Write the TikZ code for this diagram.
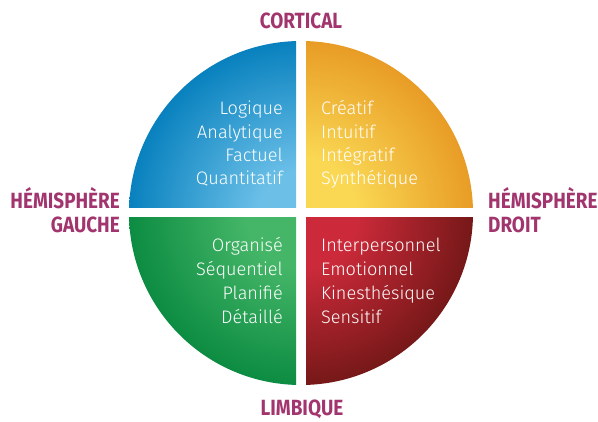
\documentclass[tikz,border=0pt]{standalone}
\usepackage{fontspec}
\newfontfamily\labfont[FakeStretch=0.86]{Fira Sans Bold}
\newfontfamily\qfont{Fira Sans Light}
\definecolor{labcol}{HTML}{A2356E}
\definecolor{bluein}{HTML}{6CC0E8}
\definecolor{blueout}{HTML}{0881BE}
\definecolor{yelin}{HTML}{FAD854}
\definecolor{yelout}{HTML}{E89C26}
\definecolor{grein}{HTML}{45B668}
\definecolor{greout}{HTML}{0C8C42}
\definecolor{redin}{HTML}{CC2A3A}
\definecolor{redout}{HTML}{761818}
\pgfdeclareradialshading{blueq}{\pgfpoint{0bp}{0bp}}{color(0bp)=(bluein); color(6bp)=(bluein); color(25bp)=(blueout); color(50bp)=(blueout)}
\pgfdeclareradialshading{yelq}{\pgfpoint{0bp}{0bp}}{color(0bp)=(yelin); color(8bp)=(yelin); color(25bp)=(yelout); color(50bp)=(yelout)}
\pgfdeclareradialshading{greq}{\pgfpoint{0bp}{0bp}}{color(0bp)=(grein); color(8bp)=(grein); color(25bp)=(greout); color(50bp)=(greout)}
\pgfdeclareradialshading{redq}{\pgfpoint{0bp}{0bp}}{color(0bp)=(redin); color(8bp)=(redin); color(25bp)=(redout); color(50bp)=(redout)}
\tikzset{
  lab/.style={font=\labfont\fontsize{22}{23}\selectfont, text=labcol, inner sep=0pt},
  qtxt/.style={font=\qfont\fontsize{18.1}{20}\selectfont, text=white, inner sep=0pt},
}
\begin{document}
\begin{tikzpicture}[x=1pt,y=-1pt]
\fill[white] (0,0) rectangle (598,422);
\useasboundingbox (0,0) rectangle (598,422);
\coordinate (C) at (301,213);
% quadrants
\begin{scope}
  \clip (C) circle [radius=172pt];
  \clip (0,0) rectangle (296,208);
  \shade[shading=blueq] (C) circle [radius=172pt];
\end{scope}
\begin{scope}
  \clip (C) circle [radius=172pt];
  \clip (306,0) rectangle (598,208);
  \shade[shading=yelq] (C) circle [radius=172pt];
\end{scope}
\begin{scope}
  \clip (C) circle [radius=172pt];
  \clip (0,218) rectangle (296,422);
  \shade[shading=greq] (C) circle [radius=172pt];
\end{scope}
\begin{scope}
  \clip (C) circle [radius=172pt];
  \clip (306,218) rectangle (598,422);
  \shade[shading=redq] (C) circle [radius=172pt];
\end{scope}
% labels
\node[lab, anchor=base] (cort) at (301,29) {CORTICAL};
\node[lab, anchor=base] (limb) at (302,416) {LIMBIQUE};
\node[lab, anchor=base east] (hg1) at (120,209) {HÉMISPHÈRE};
\node[lab, anchor=base east] (hg2) at (120,233) {GAUCHE};
\node[lab, anchor=base west] (hd1) at (488,209) {HÉMISPHÈRE};
\node[lab, anchor=base west] (hd2) at (488,233) {DROIT};
% blue texts
\node[qtxt, anchor=base east] (b1) at (283,115) {Logique};
\node[qtxt, anchor=base east] (b2) at (283,138.5) {Analytique};
\node[qtxt, anchor=base east] (b3) at (283,162) {Factuel};
\node[qtxt, anchor=base east] (b4) at (283,185) {Quantitatif};
% yellow texts
\node[qtxt, anchor=base west] (y1) at (321,115) {Créatif};
\node[qtxt, anchor=base west] (y2) at (321,138.5) {Intuitif};
\node[qtxt, anchor=base west] (y3) at (321,162) {Intégratif};
\node[qtxt, anchor=base west] (y4) at (321,185) {Synthétique};
% green texts
\node[qtxt, anchor=base east] (g1) at (283,252) {Organisé};
\node[qtxt, anchor=base east] (g2) at (283,276) {Séquentiel};
\node[qtxt, anchor=base east] (g3) at (283,300) {Planifié};
\node[qtxt, anchor=base east] (g4) at (283,323.5) {Détaillé};
% red texts
\node[qtxt, anchor=base west] (r1) at (321,252) {Interpersonnel};
\node[qtxt, anchor=base west] (r2) at (321,276) {Emotionnel};
\node[qtxt, anchor=base west] (r3) at (321,300) {Kinesthésique};
\node[qtxt, anchor=base west] (r4) at (321,323.5) {Sensitif};
\end{tikzpicture}
\end{document}
